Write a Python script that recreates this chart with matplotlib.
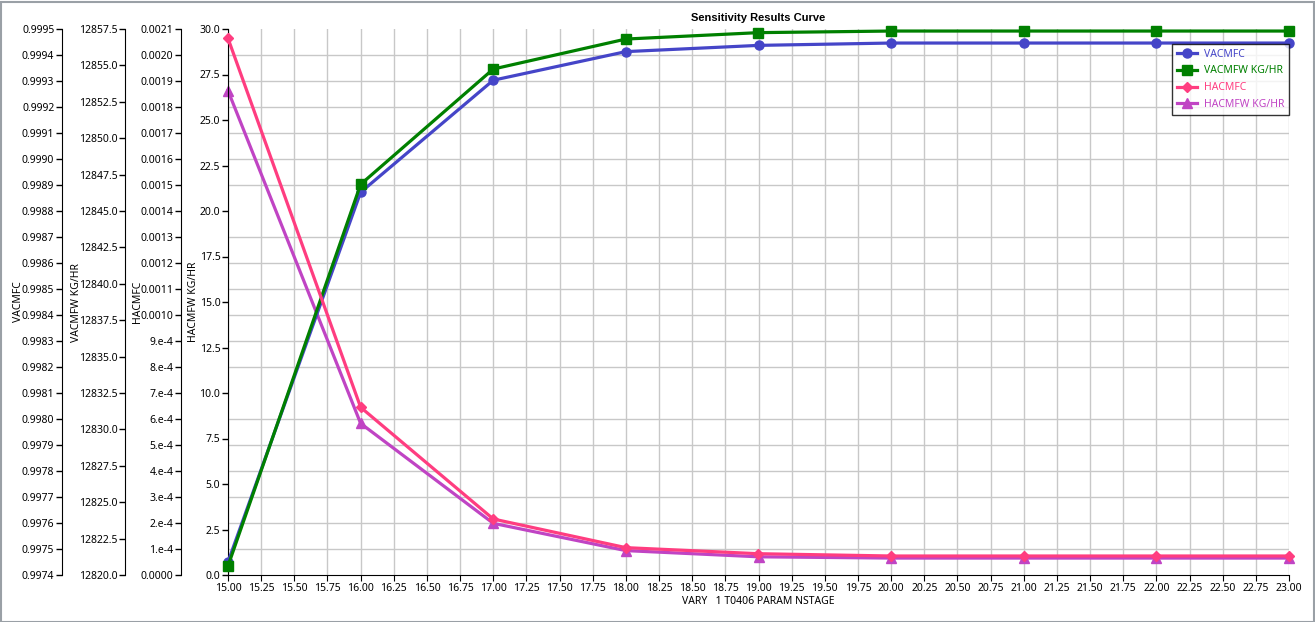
"""Sensitivity results curve: four series, each on its own left y axis."""
import matplotlib
matplotlib.use("Agg")
import matplotlib.pyplot as plt
import numpy as np
from matplotlib.patches import Rectangle

plt.rcParams['font.family'] = ['Noto Sans', 'DejaVu Sans']
plt.rcParams['font.size'] = 7.5

# data
nstage = [15, 16, 17, 18, 19, 20, 21, 22, 23]
vacmfc = [0.99745, 0.998872, 0.999303, 0.999413, 0.999437, 0.999446,
          0.999446, 0.999446, 0.999446]
vacmfw = [12820.62, 12846.83, 12854.75, 12856.81, 12857.25, 12857.36,
          12857.36, 12857.36, 12857.36]
hacmfc = [0.002064, 0.000645, 0.0002154, 0.0001052, 0.0000819, 0.0000731,
          0.0000731, 0.0000731, 0.0000731]
hacmfw = [26.61, 8.33, 2.84, 1.34, 1.00, 0.93, 0.93, 0.93, 0.93]

W, H = 1315, 622
fig = plt.figure(figsize=(W / 100, H / 100), dpi=100)
L, R, T, B = 228, 1289, 29, 575
ax = fig.add_axes([L / W, (H - B) / H, (R - L) / W, (B - T) / H])
pw = R - L

c_blue = '#4545c8'
c_green = '#008000'
c_pink = '#ff3d80'
c_purple = '#c044c4'

def setup_left(a, pos_px, lo, hi, ticks, fmt, label, label_px):
    a.set_ylim(lo, hi)
    a.set_yticks(ticks)
    a.set_yticklabels([fmt(t) for t in ticks])
    a.yaxis.set_ticks_position('left')
    a.yaxis.set_label_position('left')
    a.spines['left'].set_position(('axes', (pos_px - L) / pw))
    for s in ['right', 'top', 'bottom']:
        a.spines[s].set_visible(False)
    a.spines['left'].set_visible(True)
    a.tick_params(axis='y', direction='out', length=4, width=1, pad=1.5, labelsize=7.5)
    a.set_ylabel(label, fontsize=7.5)
    # label_px is the centre of the rotated text; anchor is its right edge
    a.yaxis.set_label_coords((label_px + 6 - L) / pw, 0.5)

# host axis: HACMFW KG/HR, 0..30
ax.set_xlim(15, 23)
xt = np.arange(15, 23.01, 0.25)
ax.set_xticks(xt)
ax.set_xticklabels([f"{v:.2f}" for v in xt])
ax.tick_params(axis='x', direction='out', length=4, pad=2, labelsize=7.5)
ax.set_xlabel("VARY   1 T0406 PARAM NSTAGE", fontsize=7.5, labelpad=1)
setup_left(ax, L, 0, 30, np.arange(0, 30.01, 2.5), lambda v: f"{v:.1f}",
           "HACMFW KG/HR", 193)
ax.set_yticks(np.linspace(0, 30, 22), minor=True)
ax.tick_params(axis='y', which='minor', length=0)
ax.grid(True, axis='x', color='#c8c8c8', linewidth=1)
ax.grid(True, axis='y', which='minor', color='#c8c8c8', linewidth=1)
ax.grid(False, axis='y', which='major')
ax.set_axisbelow(True)
ax.spines['bottom'].set_visible(True)

def hac_fmt(v):
    if v == 0:
        return "0.0000"
    if v < 0.001 - 1e-12:
        return f"{int(round(v * 1e4))}.e-4"
    return f"{v:.4f}"

ax_vc = ax.twinx()
setup_left(ax_vc, 62, 0.9974, 0.9995, np.linspace(0.9974, 0.9995, 22),
           lambda v: f"{v:.4f}", "VACMFC", 18)
ax_vw = ax.twinx()
setup_left(ax_vw, 125, 12820, 12857.5, np.arange(12820, 12857.51, 2.5),
           lambda v: f"{v:.1f}", "VACMFW KG/HR", 76)
ax_hc = ax.twinx()
setup_left(ax_hc, 181, 0, 0.0021, np.linspace(0, 0.0021, 22),
           hac_fmt, "HACMFC", 137)

lw = 2.3
l1, = ax_vc.plot(nstage, vacmfc, color=c_blue, lw=lw, marker='o', ms=6.5, label='VACMFC', clip_on=False)
l2, = ax_vw.plot(nstage, vacmfw, color=c_green, lw=lw, marker='s', ms=6.5, label='VACMFW KG/HR', clip_on=False)
l3, = ax_hc.plot(nstage, hacmfc, color=c_pink, lw=lw, marker='D', ms=5.5, label='HACMFC', clip_on=False)
l4, = ax.plot(nstage, hacmfw, color=c_purple, lw=lw, marker='^', ms=6.5, label='HACMFW KG/HR', clip_on=False)

leg = ax_hc.legend(handles=[l1, l2, l3, l4], loc='upper right',
                   bbox_to_anchor=(1.0, (B - 44) / (B - T)), bbox_transform=ax.transAxes,
                   frameon=True, fancybox=False, fontsize=7.5, borderpad=0.45,
                   handlelength=1.9, labelspacing=0.55, handletextpad=0.7,
                   borderaxespad=0.0)
leg.get_frame().set_edgecolor('black')
leg.get_frame().set_linewidth(1)
for txt, ln in zip(leg.get_texts(), [l1, l2, l3, l4]):
    txt.set_color(ln.get_color())
leg.set_zorder(20)

fig.text((L + R) / 2 / W, 1 - 18 / H, "Sensitivity Results Curve",
         ha='center', va='center', fontsize=8, fontweight='bold',
         family=['Liberation Sans', 'DejaVu Sans'])

# window frame
fig.patches.append(Rectangle((0.5 / W, 0.5 / H), 1 - 2 / W, 1 - 2 / H,
                             transform=fig.transFigure, fill=False,
                             edgecolor='#9aa0a6', linewidth=1.5))

fig.savefig("out.png", dpi=100)
